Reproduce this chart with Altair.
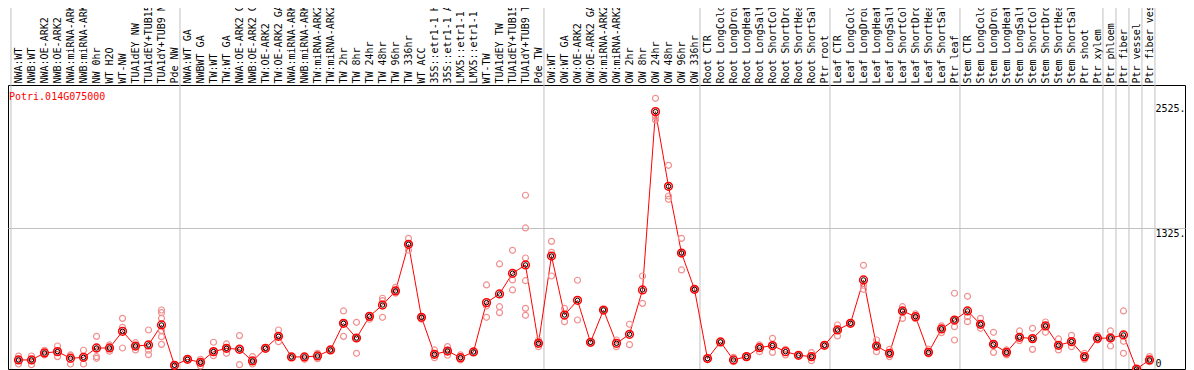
import json
import altair as alt
import pandas as pd

gene = "Potri.014G075000"

samples = [
    "NWA:WT", "NWB:WT", "NWA:OE-ARK2", "NWB:OE-ARK2", "NWA:miRNA-ARK2", "NWB:miRNA-ARK2",
    "NW 0hr", "WT H2O", "WT-NW", "TUA1dEY NW", "TUA1dEY+TUB15", "TUA1dY+TUB9 NW", "Pde NW",
    "NWA:WT GA", "NWBWT GA", "TW:WT", "TW:WT GA", "NWA:OE-ARK2 GA", "NWB:OE-ARK2 GA",
    "TW:OE-ARK2", "TW:OE-ARK2 GA", "NWA:miRNA-ARK2", "NWB:miRNA-ARK2", "TW:miRNA-ARK2",
    "TW:miRNA-ARK2", "TW 2hr", "TW 8hr", "TW 24hr", "TW 48hr", "TW 96hr", "TW 336hr",
    "WT ACC", "35S::etr1-1 H2O", "35S::etr1-1 ACC", "LMX5::etr1-1 H2O", "LMX5::etr1-1 ACC",
    "WT-TW", "TUA1dEY TW", "TUA1dEY+TUB15", "TUA1dY+TUB9 TW", "Pde TW",
    "OW:WT", "OW:WT GA", "OW:OE-ARK2", "OW:OE-ARK2 GA", "OW:miRNA-ARK2", "OW:miRNA-ARK2",
    "OW 2hr", "OW 8hr", "OW 24hr", "OW 48hr", "OW 96hr", "OW 336hr",
    "Root CTR", "Root LongCold", "Root LongDrought", "Root LongHeat", "Root LongSalt",
    "Root ShortCold", "Root ShortDrought", "Root ShortHeat", "Root ShortSalt", "Ptr root",
    "Leaf CTR", "Leaf LongCold", "Leaf LongDrought", "Leaf LongHeat", "Leaf LongSalt",
    "Leaf ShortCold", "Leaf ShortDrought", "Leaf ShortHeat", "Leaf ShortSalt", "Ptr leaf",
    "Stem CTR", "Stem LongCold", "Stem LongDrought", "Stem LongHeat", "Stem LongSalt",
    "Stem ShortCold", "Stem ShortDrought", "Stem ShortHeat", "Stem ShortSalt", "Ptr shoot",
    "Ptr xylem", "Ptr phloem", "Ptr fiber", "Ptr vessel", "Ptr fiber vessel",
]

means = [
    57, 57, 124, 137, 73, 82, 172, 172, 332, 191, 201, 393, 6,
    63, 34, 137, 169, 159, 47, 169, 284, 86, 86, 95, 153, 409, 268, 476, 585, 720, 1169,
    467, 111, 143, 79, 134, 608, 691, 890, 970, 217,
    1056, 489, 630, 227, 537, 217, 304, 730, 2444, 1726, 1085, 736,
    70, 230, 57, 89, 175, 195, 137, 102, 89, 198,
    345, 409, 826, 191, 121, 528, 473, 130, 355, 441,
    528, 400, 207, 130, 275, 262, 384, 198, 233, 89, 265,
    268, 297, -30, 57,
]

replicates = [
    [94, 57, 18], [95, 57, 12], [150, 124, 105], [191, 137, 89], [105, 96, 18],
    [150, 78, 18], [284, 160, 89, 73], [201, 172, 140], [457, 371, 172], [223, 191, 153],
    [345, 150, 108], [537, 512, 457, 339, 281, 207], [10, 6, 2],
    [63, 63], [63, 34, 0], [227, 137, 98], [211, 169, 121], [291, 174, 12], [89, 47, 18],
    [169, 169], [345, 284, 233], [86, 86], [86, 63], [121, 95, 70], [153, 153],
    [528, 409, 284], [419, 268, 121], [476, 448], [650, 627, 467], [755, 720, 698],
    [1226, 1169, 1114], [473, 467, 448], [153, 111, 79], [185, 143, 102], [105, 79, 57],
    [134, 134], [778, 576, 467], [980, 569, 512], [1111, 826, 730],
    [1640, 1326, 1037, 819, 553, 486], [249, 217, 185],
    [1197, 1092, 864], [553, 425], [823, 441], [227, 227], [537, 537], [249, 185],
    [400, 204], [864, 601], [2572, 2396, 2364], [1928, 1633, 1601], [1226, 1092, 922],
    [736, 736],
    [70, 70], [230, 230], [82, 41], [89, 89], [201, 175, 137], [265, 195, 130],
    [159, 105], [102, 102], [127, 89, 50], [198, 198],
    [393, 345, 287], [409, 409], [967, 775, 736], [249, 191, 137], [159, 121, 89],
    [569, 528, 457], [499, 473, 454], [159, 130, 114], [384, 355, 320], [698, 441, 377, 249],
    [669, 473, 425], [457, 400, 361], [323, 207, 130], [153, 130, 105], [336, 275, 243],
    [361, 262, 159], [422, 384, 323], [259, 198, 153], [294, 233, 185], [121, 89, 63],
    [291, 265, 249],
    [336, 268, 191], [528, 236, 121], [-30], [89, 57, 41],
]

group_starts = [0, 13, 41, 53, 63, 73, 84, 85, 86, 87, 88]
y_ticks = [0, 1325, 2525]

FONT = "DejaVu Sans Mono"

df_mean = pd.DataFrame({"idx": list(range(len(samples))), "sample": samples, "mean": means})
rep_rows = []
for i, vals in enumerate(replicates):
    for v in vals:
        rep_rows.append({"idx": i, "value": v})
df_rep = pd.DataFrame(rep_rows)
df_sep = pd.DataFrame({"pos": [k - 0.58 for k in group_starts]})

x_scale = alt.Scale(domain=[-0.8077, 89.731], nice=False, zero=False)
y_scale = alt.Scale(domain=[-30, 2700], nice=False, zero=False)

label_expr = "[" + ",".join(json.dumps(s) for s in samples) + "][datum.value]"
x_axis = alt.Axis(
    orient="top", values=list(range(len(samples))), labelExpr=label_expr,
    labelAngle=270, labelAlign="left", labelBaseline="middle", labelPadding=2,
    ticks=False, domain=False, grid=False, title=None, labelFont=FONT,
    labelFontSize=10, labelColor="black", labelOverlap=False, labelFlush=False,
    labelLimit=500,
)
y_axis = alt.Axis(
    orient="right", values=y_ticks,
    labelExpr="datum.value == 0 ? '0' : datum.value + '.'",
    labelAlign="left", labelBaseline="top", labelPadding=-30, ticks=False, tickSize=0,
    domain=False, grid=True, gridColor="#c0c0c0", gridWidth=1,
    gridOpacity={"condition": {"test": "datum.value == 1325", "value": 1}, "value": 0},
    labelOffset={"condition": {"test": "datum.value == 0", "value": -7}, "value": 0},
    title=None, labelFont=FONT, labelFontSize=10, labelColor="black",
    labelOverlap=False, labelFlush=False,
)

seps = alt.Chart(df_sep).mark_rule(color="#c0c0c0", strokeWidth=1).encode(
    x=alt.X("pos:Q", scale=x_scale, axis=x_axis),
    y=alt.value(-77), y2=alt.value(284),
)

line = alt.Chart(df_mean).mark_line(color="#ff0000", strokeWidth=1).encode(
    x=alt.X("idx:Q", scale=x_scale, axis=x_axis),
    y=alt.Y("mean:Q", scale=y_scale, axis=y_axis),
)

reps = alt.Chart(df_rep).mark_point(
    shape="circle", filled=False, size=36, color="#f09090", strokeWidth=1.2, opacity=1
).encode(
    x=alt.X("idx:Q", scale=x_scale, axis=x_axis),
    y=alt.Y("value:Q", scale=y_scale, axis=y_axis),
)

mean_red = alt.Chart(df_mean).mark_point(
    shape="circle", filled=False, size=60, color="#ff0000", strokeWidth=1.5, opacity=1
).encode(
    x=alt.X("idx:Q", scale=x_scale, axis=x_axis),
    y=alt.Y("mean:Q", scale=y_scale, axis=y_axis),
)

mean_black = alt.Chart(df_mean).mark_point(
    shape="circle", filled=False, size=20, color="#000000", strokeWidth=1, opacity=1
).encode(
    x=alt.X("idx:Q", scale=x_scale, axis=x_axis),
    y=alt.Y("mean:Q", scale=y_scale, axis=y_axis),
)

title_txt = alt.Chart(pd.DataFrame({"gene": [gene]})).mark_text(
    align="left", baseline="middle", font=FONT, fontSize=10, color="#ff0000"
).encode(x=alt.value(1), y=alt.value(12), text="gene:N")

chart = alt.layer(seps, line, reps, mean_red, mean_black, title_txt).properties(
    width=1177, height=284,
    padding={"left": 0, "top": 77, "right": 1, "bottom": 1},
    autosize=alt.AutoSizeParams(type="none"),
    background="white",
).configure_view(stroke="black", strokeWidth=1)

chart.save("out.html", embed_options={"renderer": "svg", "actions": False})
